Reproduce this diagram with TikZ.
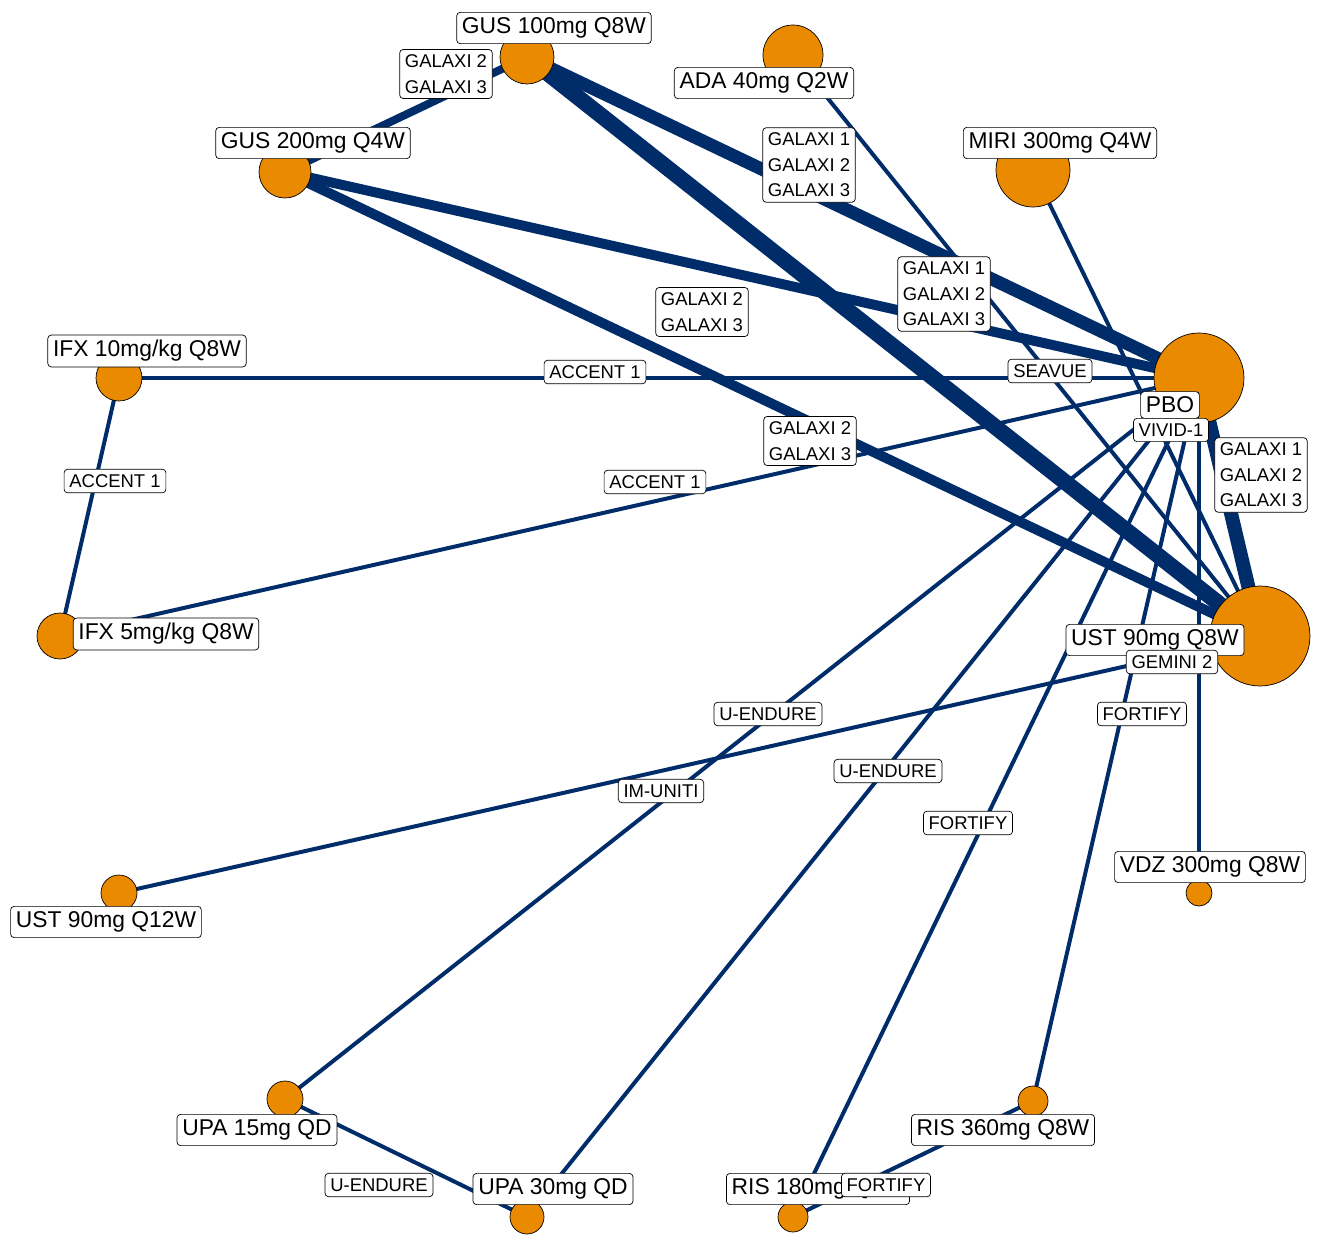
\documentclass[tikz,border=0pt]{standalone}
\usepackage{fontspec}
\setmainfont{Liberation Sans}
\usetikzlibrary{calc}

\definecolor{edgeblue}{RGB}{0,44,106}
\definecolor{trtorange}{RGB}{234,138,0}

\begin{document}
\begin{tikzpicture}[x=0.02cm, y=-0.02cm,
    trt/.style={circle, draw=black, thin, fill=trtorange, inner sep=0pt},
    tlab/.style={draw=black, thin, fill=white, rounded corners=2pt, font=\fontsize{13}{14}\selectfont, inner sep=3pt},
    elab/.style={draw=black, thin, fill=white, rounded corners=2pt, font=\fontsize{10.5}{14.5}\selectfont, align=center, inner sep=3pt},
    link/.style={draw=edgeblue, line width=#1*0.567pt},
    link/.default=4]
    \useasboundingbox (0,0) rectangle (1320,1257);
    % treatment coordinates
    \coordinate (gus100) at (527,57);
    \coordinate (ada) at (793,55);
    \coordinate (miri) at (1033,170);
    \coordinate (gus200) at (285,172);
    \coordinate (ifx10) at (119,378);
    \coordinate (pbo) at (1199,378);
    \coordinate (ifx5) at (60,636);
    \coordinate (ust8) at (1260,636);
    \coordinate (ust12) at (119,893);
    \coordinate (vdz) at (1199,893);
    \coordinate (upa15) at (285,1099);
    \coordinate (ris360) at (1033,1101);
    \coordinate (upa30) at (527,1217);
    \coordinate (ris180) at (793,1217);
    % comparisons
    \draw[link=8]  (gus100) -- (gus200);
    \draw[link=13] (gus100) -- (pbo);
    \draw[link=16] (gus100) -- (ust8);
    \draw[link=10] (gus200) -- (pbo);
    \draw[link=10] (gus200) -- (ust8);
    \draw[link] (ada) -- (ust8);
    \draw[link] (miri) -- (ust8);
    \draw[link] (ifx10) -- (pbo);
    \draw[link] (ifx10) -- (ifx5);
    \draw[link] (ifx5) -- (pbo);
    \draw[link=14] (pbo) -- (ust8);
    \draw[link] (ust12) -- (ust8);
    \draw[link] (upa15) -- (pbo);
    \draw[link] (upa30) -- (pbo);
    \draw[link] (upa15) -- (upa30);
    \draw[link] (ris180) -- (pbo);
    \draw[link] (ris360) -- (pbo);
    \draw[link] (ris180) -- (ris360);
    \draw[link] (vdz) -- (pbo);
    % treatments
    \node[trt, minimum size=1.08cm] (n-gus100) at (gus100) {};
    \node[trt, minimum size=1.2cm] (n-ada) at (ada) {};
    \node[trt, minimum size=1.48cm] (n-miri) at (miri) {};
    \node[trt, minimum size=1.04cm] (n-gus200) at (gus200) {};
    \node[trt, minimum size=0.92cm] (n-ifx10) at (ifx10) {};
    \node[trt, minimum size=1.8cm] (n-pbo) at (pbo) {};
    \node[trt, minimum size=0.92cm] (n-ifx5) at (ifx5) {};
    \node[trt, minimum size=2cm] (n-ust8) at (ust8) {};
    \node[trt, minimum size=0.72cm] (n-ust12) at (ust12) {};
    \node[trt, minimum size=0.52cm] (n-vdz) at (vdz) {};
    \node[trt, minimum size=0.72cm] (n-upa15) at (upa15) {};
    \node[trt, minimum size=0.6cm] (n-ris360) at (ris360) {};
    \node[trt, minimum size=0.68cm] (n-upa30) at (upa30) {};
    \node[trt, minimum size=0.6cm] (n-ris180) at (ris180) {};
    % comparison labels
    \node[elab] (l-gg) at (446,74) {GALAXI 2\\GALAXI 3};
    \node[elab] (l-g1p) at (809,165) {GALAXI 1\\GALAXI 2\\GALAXI 3};
    \node[elab] (l-g1u) at (944,294) {GALAXI 1\\GALAXI 2\\GALAXI 3};
    \node[elab] (l-g2p) at (702,312) {GALAXI 2\\GALAXI 3};
    \node[elab] (l-g2u) at (810,441) {GALAXI 2\\GALAXI 3};
    \node[elab] (l-ip) at (595,372) {ACCENT 1};
    \node[elab] (l-sea) at (1050,371) {SEAVUE};
    \node[elab] (l-ii) at (115,481) {ACCENT 1};
    \node[elab] (l-i5p) at (655,482) {ACCENT 1};
    % treatment labels
    \node[tlab] (t-pbo) at (1170,405) {PBO};
    \node[elab] (l-vivid) at (1171,430) {VIVID-1};
    \node[elab] (l-pu) at (1261,475) {GALAXI 1\\GALAXI 2\\GALAXI 3};
    \node[tlab] (t-gus100) at (554,28) {GUS 100mg Q8W};
    \node[tlab] (t-ada) at (764,83) {ADA 40mg Q2W};
    \node[tlab] (t-miri) at (1060,143) {MIRI 300mg Q4W};
    \node[tlab] (t-gus200) at (313,143) {GUS 200mg Q4W};
    \node[tlab] (t-ifx10) at (147,351) {IFX 10mg/kg Q8W};
    \node[tlab] (t-ifx5) at (166,634) {IFX 5mg/kg Q8W};
    \node[tlab] (t-ust8) at (1155,640) {UST 90mg Q8W};
    \node[elab] (l-gem) at (1172,662) {GEMINI 2};
    \node[elab] (l-fr3) at (1142,714) {FORTIFY};
    \node[elab] (l-u15) at (768,714) {U-ENDURE};
    \node[elab] (l-im) at (661,791) {IM-UNITI};
    \node[elab] (l-u30) at (888,771) {U-ENDURE};
    \node[elab] (l-fr1) at (968,823) {FORTIFY};
    \node[tlab] (t-ust12) at (106,922) {UST 90mg Q12W};
    \node[tlab] (t-vdz) at (1210,867) {VDZ 300mg Q8W};
    \node[tlab] (t-upa15) at (257,1130) {UPA 15mg QD};
    \node[tlab] (t-ris360) at (1003,1130) {RIS 360mg Q8W};
    \node[tlab] (t-upa30) at (553,1189) {UPA 30mg QD};
    \node[tlab] (t-ris180) at (818,1189) {RIS 180mg Q4W};
    \node[elab] (l-uu) at (379,1185) {U-ENDURE};
    \node[elab] (l-rr) at (886,1185) {FORTIFY};
\end{tikzpicture}
\end{document}
